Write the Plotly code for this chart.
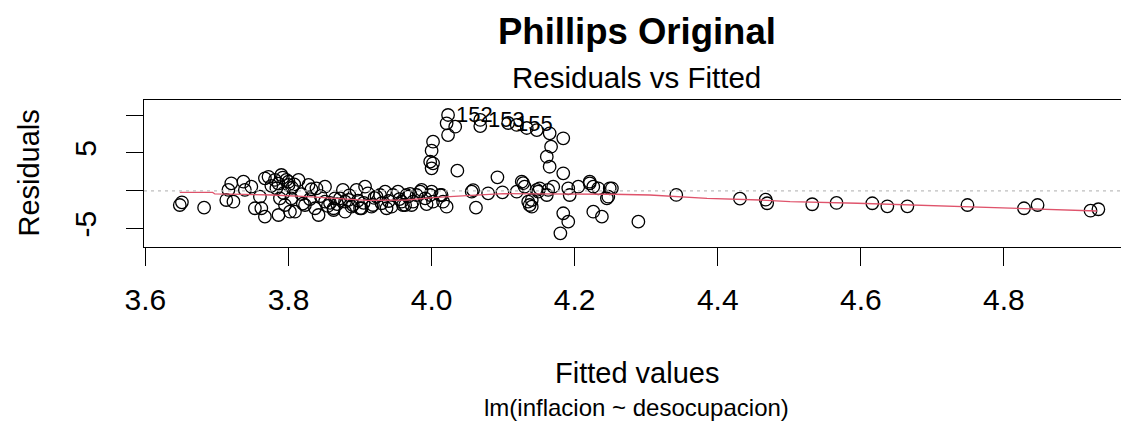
import plotly.graph_objects as go

# fitted values / residuals
fitted = [
    3.648, 3.651, 3.682, 3.713, 3.716, 3.720, 3.723, 3.737, 3.739, 3.748,
    3.753, 3.762, 3.767, 3.760, 3.767, 3.781, 3.790, 3.783, 3.788, 3.786,
    3.795, 3.800, 3.802, 3.797, 3.800, 3.814, 3.828, 3.839, 3.851, 3.804,
    3.809, 3.823, 3.837, 3.851, 3.863, 3.865, 3.876, 3.879, 3.888, 3.895,
    3.907, 3.911, 3.902, 3.916, 3.923, 3.930, 3.935, 3.944, 3.953, 3.958,
    3.967, 3.972, 3.986, 3.991, 4.000, 3.879, 3.842, 3.863, 3.890, 3.900,
    3.918, 3.937, 3.928, 3.946, 3.963, 3.979, 3.998, 4.014, 3.965, 3.984,
    4.012, 4.016, 3.960, 3.974, 4.002, 3.786, 3.792, 3.805, 3.818, 3.830,
    3.845, 3.858, 3.872, 3.885, 3.897, 3.772, 3.776, 3.793, 3.808, 3.820,
    3.832, 3.855, 3.868, 3.884, 3.905, 3.920, 3.940, 3.955, 3.970, 3.993,
    4.023, 4.021, 4.033, 4.023, 4.002, 4.000, 3.998, 4.002, 4.000, 4.036,
    4.092, 4.068, 4.068, 4.107, 4.119, 4.133, 4.147, 4.165, 4.184, 4.167,
    4.161, 4.165, 4.184, 4.021, 4.056, 4.062, 4.079, 4.119, 4.126, 4.128,
    4.135, 4.140, 4.137, 4.147, 4.149, 4.161, 4.170, 4.191, 4.193, 4.184,
    4.191, 4.180, 4.205, 4.221, 4.221, 4.226, 4.233, 4.226, 4.238, 4.249,
    4.252, 4.247, 4.245, 4.289, 4.130, 4.140, 4.151, 4.163, 4.058, 4.099,
    4.342, 4.431, 4.467, 4.469, 4.532, 4.566, 4.616, 4.637, 4.665, 4.749,
    4.828, 4.847, 4.921, 4.932,
]
residuals = [
    -1.88, -1.52, -2.23, -1.22, 0.11, 0.99, -1.44, 1.20, 0.11, 0.54,
    -2.31, -2.31, -3.42, -0.78, 1.65, 1.43, 2.09, 0.33, -0.99, -3.20,
    -1.88, 0.77, -2.76, 1.43, 1.20, 1.43, 0.77, 0.33, 0.54, -0.99,
    -2.76, -1.88, -2.31, -1.44, -2.31, -0.99, 0.11, -1.44, -2.10, 0.11,
    0.54, -0.33, -2.31, -2.10, -0.78, -1.65, -0.12, -2.10, -0.12, -1.44,
    -0.78, -1.88, 0.11, -0.99, -0.12, -2.76, -3.20, -2.54, -1.88, -2.31,
    -1.88, -2.31, -0.56, -0.56, -1.88, -0.56, -0.56, -0.56, -0.56, -0.12,
    -0.56, -1.44, -1.88, -1.44, -1.44, 0.95, 1.75, 0.40, -0.45, -1.10,
    -0.70, -1.60, -1.00, -0.60, -1.30, 1.85, 0.65, -0.30, 0.85, -1.70,
    0.20, -2.00, -1.75, -1.20, -1.60, -0.95, -1.35, -1.10, -0.40, -1.75,
    10.02, 8.92, 8.47, 7.37, 6.49, 5.30, 3.85, 3.63, 2.97, 2.66,
    1.78, 9.36, 8.56, 8.96, 8.70, 8.30, 8.03, 7.60, 6.94, 5.83,
    4.51, 3.18, 2.31, -2.10, -0.12, -2.23, -0.33, -0.12, 1.20, 1.00,
    -1.44, -2.10, -1.88, 0.11, -0.12, -0.56, 0.54, 0.33, -0.56, -2.97,
    -4.08, -5.62, 0.54, 1.20, 0.99, 0.54, 0.33, -2.76, -3.42, 0.33,
    0.33, -0.78, -0.99, -4.08, 0.54, -1.22, 0.33, 0.11, 0.10, -0.20,
    -0.55, -1.04, -1.18, -1.65, -1.78, -1.61, -1.65, -2.05, -2.05, -1.88,
    -2.31, -1.88, -2.63, -2.44,
]

# lowess smoother (red line)
smooth_x = [3.648, 3.694, 3.697, 3.778, 3.826, 3.862, 3.910, 3.965, 4.002, 4.049,
            4.100, 4.142, 4.198, 4.253, 4.305, 4.385, 4.459, 4.501, 4.595, 4.707,
            4.790, 4.883, 4.930]
smooth_y = [-0.20, -0.22, -0.42, -0.56, -0.78, -0.99, -1.26, -1.22, -0.91, -0.65,
            -0.38, -0.42, -0.42, -0.46, -0.56, -0.99, -1.22, -1.44, -1.65, -2.01,
            -2.31, -2.54, -2.67]

# labelled outliers
id_labels = ["152", "153", "155"]
id_x = [4.023, 4.068, 4.107]
id_y = [10.02, 9.36, 8.96]

x_ticks = [3.6, 3.8, 4.0, 4.2, 4.4, 4.6, 4.8]
y_ticks = [-5, 0, 5, 10]
y_ticktext = ["-5", "", "5", ""]

FONT = "Liberation Sans, Arial, sans-serif"

fig = go.Figure()

# dotted zero line
fig.add_hline(y=0, line=dict(color="#BEBEBE", width=1.2, dash="3px,4px"))

fig.add_trace(go.Scatter(
    x=fitted, y=residuals, mode="markers",
    marker=dict(symbol="circle-open", size=12.5, color="black",
                line=dict(color="black", width=1.3)),
    showlegend=False, hoverinfo="x+y"))

fig.add_trace(go.Scatter(
    x=smooth_x, y=smooth_y, mode="lines",
    line=dict(color="#DF536B", width=1.3),
    showlegend=False))

for lab, xx, yy in zip(id_labels, id_x, id_y):
    fig.add_annotation(x=xx, y=yy, text=lab, showarrow=False,
                       xanchor="left", yanchor="middle", xshift=6,
                       font=dict(family=FONT, size=22, color="black"))


def label(text, x, y, size, angle=0):
    fig.add_annotation(xref="paper", yref="paper", x=x, y=y, text=text,
                       showarrow=False, xanchor="center", yanchor="middle",
                       textangle=angle,
                       font=dict(family=FONT, size=size, color="black"))


# titles and axis labels (R-style placement)
label("<b>Phillips Original</b>", 0.5046, 1.469, 36.5)
label("Residuals vs Fitted", 0.5046, 1.156, 29.5)
label("Fitted values", 0.5046, -0.857, 29)
label("lm(inflacion ~ desocupacion)", 0.5046, -1.095, 24)
label("Residuals", -0.1187, 0.5, 29, angle=-90)

fig.update_xaxes(range=[3.598, 4.9636], tickvals=x_ticks,
                 ticktext=[f"{v:.1f}" for v in x_ticks],
                 showgrid=False, zeroline=False, automargin=False,
                 showline=True, mirror=True, linecolor="black", linewidth=1.3,
                 ticks="outside", ticklen=18, tickwidth=1.3, tickcolor="black",
                 ticklabelstandoff=8,
                 tickfont=dict(family=FONT, size=30, color="black"))
fig.update_yaxes(range=[-7.43, 12.0], tickvals=y_ticks, ticktext=y_ticktext,
                 tickangle=-90, automargin=False,
                 showgrid=False, zeroline=False,
                 showline=True, mirror=False, linecolor="black", linewidth=1.3,
                 ticks="outside", ticklen=17, tickwidth=1.3, tickcolor="black",
                 ticklabelstandoff=18,
                 tickfont=dict(family=FONT, size=30, color="black"))

fig.update_layout(
    width=1121, height=422,
    margin=dict(l=144, r=0, t=100, b=175),
    plot_bgcolor="white", paper_bgcolor="white",
    font=dict(family=FONT, color="black"),
)

# drop the default 8px page margin so the figure fills the window exactly
fig.write_html("out.html",
               config={"displayModeBar": False},
               post_script="document.body.style.margin='0';"
                           "document.body.style.overflow='hidden';")
